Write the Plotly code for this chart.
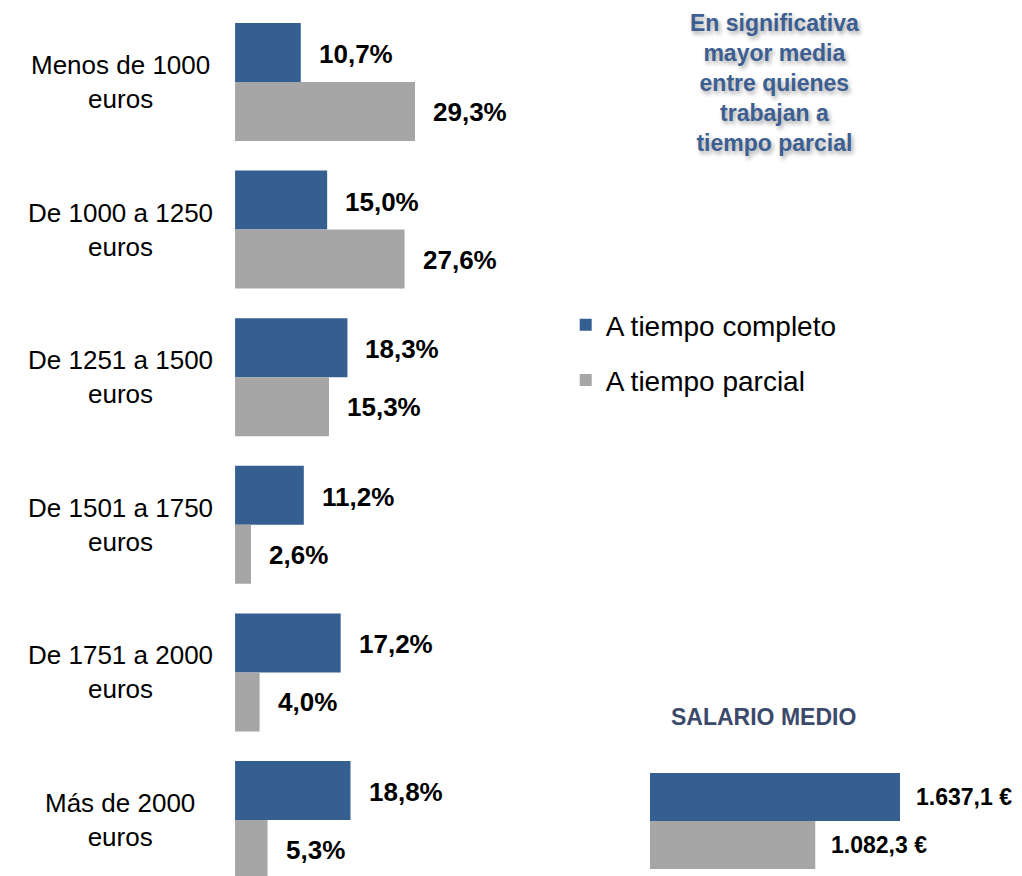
import plotly.graph_objects as go

# data
categorias = ["Menos de 1000<br>euros", "De 1000 a 1250<br>euros", "De 1251 a 1500<br>euros",
              "De 1501 a 1750<br>euros", "De 1751 a 2000<br>euros", "Más de 2000<br>euros"]
completo = [10.7, 15.0, 18.3, 11.2, 17.2, 18.8]
parcial = [29.3, 27.6, 15.3, 2.6, 4.0, 5.3]
series = ["A tiempo completo", "A tiempo parcial"]
salario_medio = [1637.1, 1082.3]

AZUL = "#365F91"
GRIS = "#A6A6A6"
FONT = "Liberation Sans, Arial, sans-serif"

# the page body keeps its 8px default margin, so the figure is 8px smaller
W, H = 1014, 868


def pct(v):
    return f"{v:.1f}".replace(".", ",") + "%"


def euros(v):
    s = f"{v:,.1f}".replace(",", "X").replace(".", ",").replace("X", ".")
    return s + " €"


fig = go.Figure()

fig.add_trace(go.Bar(y=categorias, x=completo, orientation="h", name=series[0],
                     marker=dict(color=AZUL, line=dict(width=0)), legendgroup="a"))
fig.add_trace(go.Bar(y=categorias, x=parcial, orientation="h", name=series[1],
                     marker=dict(color=GRIS, line=dict(width=0)), legendgroup="b"))

# salario medio, small chart bottom right
fig.add_trace(go.Bar(y=[0, 1], x=salario_medio, orientation="h", width=1,
                     marker=dict(color=[AZUL, GRIS], line=dict(width=0)),
                     xaxis="x2", yaxis="y2", showlegend=False))

annotations = []
for cat, c, p in zip(categorias, completo, parcial):
    annotations.append(dict(x=c, y=cat, xref="x", yref="y", text=pct(c), showarrow=False,
                            xanchor="left", xshift=16, yshift=28,
                            font=dict(size=26, color="black", family=FONT, weight="bold")))
    annotations.append(dict(x=p, y=cat, xref="x", yref="y", text=pct(p), showarrow=False,
                            xanchor="left", xshift=16, yshift=-30,
                            font=dict(size=26, color="black", family=FONT, weight="bold")))
    annotations.append(dict(x=0.1105, y=cat, xref="paper", yref="y", text=cat, showarrow=False,
                            xanchor="center", align="center",
                            font=dict(size=26, color="black", family=FONT)))

for i, v in enumerate(salario_medio):
    annotations.append(dict(x=v, y=i, xref="x2", yref="y2", text=euros(v), showarrow=False,
                            xanchor="left", xshift=14,
                            font=dict(size=23, color="black", family=FONT, weight="bold")))

annotations.append(dict(x=0.7446, y=0.1832, xref="paper", yref="paper", text="SALARIO MEDIO",
                        showarrow=False, xanchor="center", yanchor="middle",
                        font=dict(size=23, color="#3B4A6B", family=FONT, weight="bold")))

annotations.append(dict(x=0.7564, y=1.0, xref="paper", yref="paper",
                        text="En significativa<br>mayor media<br>entre quienes<br>trabajan a<br>tiempo parcial",
                        showarrow=False, xanchor="center", yanchor="top", align="center",
                        font=dict(size=23, color="#3C5E91", family=FONT, weight="bold",
                                  shadow="2px 3px 4px rgba(0,0,0,0.35)")))

fig.update_layout(
    width=W, height=H,
    margin=dict(l=0, r=0, t=0, b=0),
    paper_bgcolor="white", plot_bgcolor="white",
    barmode="group", bargap=0.2, bargroupgap=0,
    font=dict(family=FONT, color="black"),
    xaxis=dict(domain=[0.2239, 0.617], range=[0, 64.9], visible=False),
    yaxis=dict(domain=[0, 1], range=[5.379, -0.501], visible=False),
    xaxis2=dict(domain=[0.6331, 1.0], range=[0, 2436], visible=False, anchor="y2"),
    yaxis2=dict(domain=[0.0081, 0.1187], range=[1.5, -0.5], visible=False, anchor="x2"),
    legend=dict(x=0.550, y=0.6636, xanchor="left", yanchor="top",
                traceorder="grouped", tracegroupgap=16,
                font=dict(size=28, color="black", family=FONT),
                bgcolor="rgba(0,0,0,0)"),
    annotations=annotations,
)

fig.write_html("out.html")
